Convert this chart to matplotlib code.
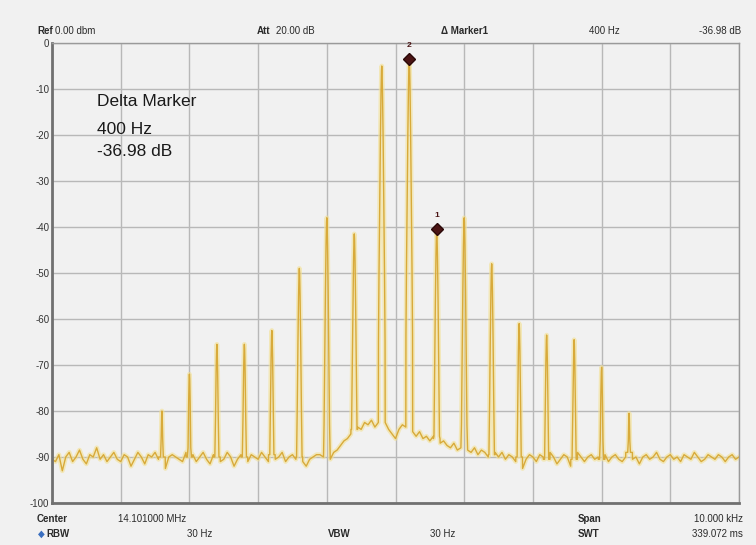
import numpy as np
import matplotlib.pyplot as plt

# spectrum around 14.101 MHz, frequency as offset from center (Hz)
peak_freqs = [-3400, -3000, -2600, -2200, -1800, -1400, -1000, -600, -200,
              200, 600, 1000, 1400, 1800, 2200, 2600, 3000, 3400]
peak_levels = [-80.0, -72.0, -65.5, -65.5, -62.5, -49.0, -38.0, -41.5, -5.0,
               -3.5, -40.5, -38.0, -48.0, -61.0, -63.5, -64.5, -70.5, -80.5]

# noise floor read every 50 Hz from -5000 to +5000 Hz
floor_freqs = np.arange(-5000, 5001, 50)
floor_levels = [
    -90.5, -91.0, -89.5, -93.0, -90.0, -89.0, -91.0, -90.0, -88.5, -90.5,
    -91.5, -89.5, -90.0, -88.0, -90.5, -89.5, -91.0, -90.0, -89.0, -90.5,
    -91.0, -89.5, -90.0, -92.0, -90.5, -89.0, -90.0, -91.5, -89.5, -90.0,
    -89.0, -90.5, -90.0, -92.5, -90.0, -89.5, -90.0, -90.5, -91.0, -89.0,
    -90.0, -89.5, -91.0, -90.0, -89.0, -90.5, -91.5, -89.5, -90.0, -91.0,
    -90.5, -89.0, -90.0, -92.0, -90.5, -89.5, -90.0, -91.0, -89.5, -90.0,
    -90.5, -89.0, -90.0, -91.0, -89.5, -90.5, -90.0, -89.0, -91.0, -90.0,
    -89.5, -90.5, -90.0, -91.0, -92.0, -90.5, -90.0, -89.5, -89.5, -90.0,
    -90.0, -90.5, -89.0, -88.5, -87.5, -86.5, -86.0, -85.0, -84.0, -83.5,
    -84.0, -82.5, -83.0, -82.0, -83.5, -82.5, -83.0, -82.5, -84.0, -85.0,
    -86.0, -84.0, -83.0, -83.5, -84.0, -84.5, -85.5, -84.5, -86.0, -85.5,
    -86.5, -85.5, -86.0, -87.0, -86.5, -87.5, -88.0, -87.0, -88.5, -88.0,
    -88.0, -88.5, -89.0, -88.0, -89.5, -88.5, -89.0, -90.0, -89.5, -89.0,
    -90.0, -89.0, -90.5, -89.5, -90.0, -91.0, -90.0, -92.5, -90.5, -89.5,
    -90.0, -91.0, -89.5, -90.0, -90.5, -89.0, -90.0, -91.5, -90.5, -89.5,
    -90.0, -92.0, -90.5, -89.0, -90.0, -91.0, -90.0, -89.5, -90.5, -90.0,
    -90.5, -89.5, -91.0, -90.0, -89.5, -90.5, -91.0, -90.0, -89.0, -90.5,
    -90.0, -91.5, -90.0, -89.5, -90.5, -90.0, -89.0, -90.5, -91.0, -90.0,
    -89.5, -90.5, -90.0, -91.0, -89.5, -90.0, -90.5, -89.0, -90.0, -91.0,
    -90.5, -89.5, -90.0, -90.5, -89.5, -90.0, -91.0, -90.0, -89.5, -90.5,
    -90.0,
]

# markers
marker_freqs = [600, 200]
marker_levels = [-40.5, -3.5]
marker_names = ['1', '2']

# narrow RBW spike shape around each carrier
spike_off = [-48, -40, -30, -20, -11, -4, 0, 4, 11, 20, 30, 40, 48]
spike_drop = [60, 45, 30, 16, 6, 1, 0, 1, 6, 16, 30, 45, 60]

peaks = dict(zip(peak_freqs, peak_levels))
xs, ys = [], []
for f, v in zip(floor_freqs, floor_levels):
    if f in peaks:
        for off, d in zip(spike_off, spike_drop):
            xs.append(f + off)
            ys.append(max(peaks[f] - d, v))
    else:
        xs.append(f)
        ys.append(v)

plt.rcParams['font.family'] = ['Liberation Sans', 'DejaVu Sans']
bg = '#f1f1f1'
fig = plt.figure(figsize=(7.56, 5.45), dpi=100, facecolor=bg)
ax = fig.add_axes([0.0688, 0.0771, 0.9087, 0.844], facecolor=bg)

ax.plot(xs, ys, color='#f3e193', lw=3.4, alpha=0.6, solid_joinstyle='round')
ax.plot(xs, ys, color='#d8aa3a', lw=1.0)

ax.plot(marker_freqs, marker_levels, 'D', color='#4a1414', ms=6,
        markeredgecolor='#2a0808')
for f, v, n in zip(marker_freqs, marker_levels, marker_names):
    ax.text(f, v + 2.3, n, ha='center', va='bottom', fontsize=6,
            color='#4a1414', fontweight='bold')

ax.set_xlim(-5000, 5000)
ax.set_ylim(-100, 0)
ax.set_xticks(np.arange(-5000, 5001, 1000))
ax.set_yticks(np.arange(-100, 1, 10))
ax.set_xticklabels([])
ax.set_yticklabels([str(v) for v in range(-100, 1, 10)], fontsize=7,
                   color='#333333')
ax.tick_params(length=0, pad=2)
ax.grid(True, color='#b8b8b8', lw=1.0)
ax.set_axisbelow(True)
for s in ['top', 'right']:
    ax.spines[s].set_color('#9a9a9a')
    ax.spines[s].set_linewidth(1.0)
for s in ['left', 'bottom']:
    ax.spines[s].set_color('#707070')
    ax.spines[s].set_linewidth(2.0)

ax.text(0.065, 0.863, 'Delta Marker', transform=ax.transAxes, fontsize=12.5,
        color='#1a1a1a')
ax.text(0.065, 0.802, '400 Hz', transform=ax.transAxes, fontsize=12.5,
        color='#1a1a1a')
ax.text(0.065, 0.754, '-36.98 dB', transform=ax.transAxes, fontsize=12.5,
        color='#1a1a1a')

W, H = 756.0, 545.0
def info(x, y, s, bold=False, ha='left', color='#2a2a2a'):
    fig.text(x / W, 1 - y / H, s, ha=ha, va='center', fontsize=7,
             fontweight='bold' if bold else 'normal', color=color,
             fontstretch='condensed')

# header line
info(37, 31, 'Ref', bold=True)
info(55, 31, '0.00 dbm')
info(257, 31, 'Att', bold=True)
info(276, 31, '20.00 dB')
info(441, 31, '\u0394 Marker1', bold=True)
info(620, 31, '400 Hz', ha='right')
info(741, 31, '-36.98 dB', ha='right')

# footer lines
info(37, 519, 'Center', bold=True)
info(118, 519, '14.101000 MHz')
info(578, 519, 'Span', bold=True)
info(743, 519, '10.000 kHz', ha='right')
info(38, 534, '\u25c6', color='#3a6fc0')
info(46, 534, 'RBW', bold=True)
info(212, 534, '30 Hz', ha='right')
info(328, 534, 'VBW', bold=True)
info(455, 534, '30 Hz', ha='right')
info(578, 534, 'SWT', bold=True)
info(743, 534, '339.072 ms', ha='right')

fig.savefig('out.png', dpi=100, facecolor=bg)
